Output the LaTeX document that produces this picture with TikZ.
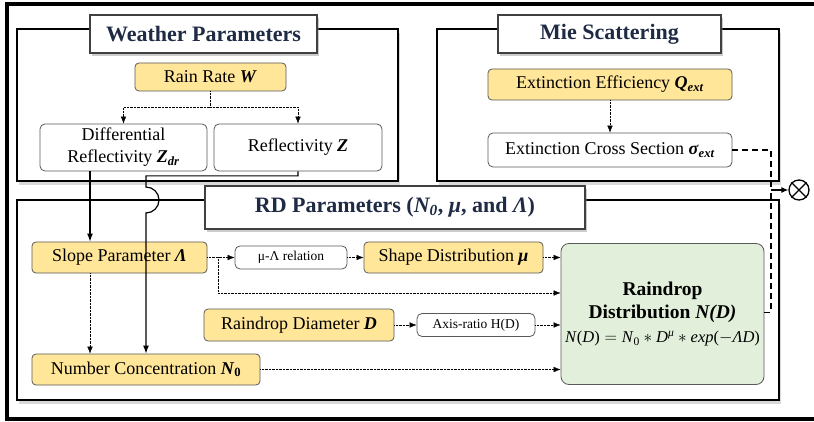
\documentclass[tikz,border=0pt]{standalone}
\usepackage{fontspec}
\setmainfont{Liberation Serif}
\usetikzlibrary{arrows.meta,shadows}

\definecolor{rainyellow}{HTML}{FFE699}
\definecolor{dropgreen}{HTML}{E2EFDA}
\definecolor{titlenavy}{HTML}{1F2A44}

\begin{document}
\begin{tikzpicture}[x=1pt, y=-1pt,
    every node/.style={font=\fontsize{18}{22}\selectfont},
    param/.style={draw=black!65, fill=rainyellow, rounded corners=4pt, thick, inner sep=0pt},
    plainbox/.style={draw=black!65, fill=white, rounded corners=5pt, thick, inner sep=0pt, align=center},
    smallbox/.style={plainbox, font=\fontsize{13.5}{16}\selectfont},
    section/.style={draw=black, line width=1.4pt, fill=white,
        drop shadow={shadow xshift=2pt, shadow yshift=-4pt, opacity=.3}},
    titlebox/.style={draw=black!75, line width=1.8pt, fill=white, inner sep=0pt,
        text=titlenavy, font=\bfseries\fontsize{22}{26}\selectfont,
        drop shadow={shadow xshift=2pt, shadow yshift=-3pt, opacity=.4}},
    dotarrow/.style={densely dotted, thin, -{Latex[length=7pt,width=5.5pt]}},
    flow/.style={line width=1.2pt, -{Latex[length=8pt,width=6pt]}},
    dashflow/.style={line width=1.6pt, dash pattern=on 6pt off 4pt}
  ]
    \useasboundingbox (0,0) rectangle (814,422);
    \draw[line width=4pt] (814,4.5) -- (7,4.5) -- (7,419) -- (814,419);

    \draw[section] (17,29) rectangle (398,181);
    \draw[section] (437,29) rectangle (779,181);
    \draw[section] (17,200) rectangle (779,400);

    \node[titlebox, minimum width=227pt, minimum height=38pt] (wtitle) at (203.5,34) {Weather Parameters};
    \node[titlebox, minimum width=223pt, minimum height=38pt] (mtitle) at (609.5,34) {Mie Scattering};
    \node[titlebox, minimum width=380pt, minimum height=43pt] (rtitle) at (395,207.5)
        {RD Parameters (\textit{N\textsubscript{0}}, \textit{μ}, and \textit{Λ})};

    % weather parameters
    \node[param, minimum width=151pt, minimum height=28pt] (rain) at (210.5,77) {Rain Rate \textbf{\textit{W}}};
    \node[plainbox, minimum width=167pt, minimum height=47pt] (zdr) at (123.5,147.5)
        {Differential\\Reflectivity \textbf{\textit{Z}}\textsubscript{\textbf{\textit{dr}}}};
    \node[plainbox, minimum width=168pt, minimum height=47pt] (refl) at (298,147.5) {Reflectivity \textbf{\textit{Z}}};

    % mie scattering
    \node[param, minimum width=244pt, minimum height=31pt] (qext) at (610,84.5)
        {Extinction Efficiency \textbf{\textit{Q}}\textsubscript{\textbf{\textit{ext}}}};
    \node[plainbox, minimum width=244pt, minimum height=34pt] (sext) at (610,150)
        {Extinction Cross Section \textbf{\textit{σ}}\textsubscript{\textbf{\textit{ext}}}};

    % RD parameters
    \node[param, minimum width=175pt, minimum height=31pt] (slope) at (119.5,257.5) {Slope Parameter \textbf{\textit{Λ}}};
    \node[smallbox, minimum width=112pt, minimum height=23pt] (mula) at (291,257.5) {μ-Λ relation};
    \node[param, minimum width=179pt, minimum height=31pt] (shape) at (453.5,257.5) {Shape Distribution \textbf{\textit{μ}}};
    \node[param, minimum width=190pt, minimum height=32pt] (diam) at (299,325) {Raindrop Diameter \textbf{\textit{D}}};
    \node[smallbox, minimum width=118pt, minimum height=23pt] (axis) at (476,325) {Axis-ratio H(D)};
    \node[param, minimum width=228pt, minimum height=31pt] (numc) at (146,369.5)
        {Number Concentration \textbf{\textit{N}}\textsubscript{\textbf{0}}};
    \node[plainbox, fill=dropgreen, rounded corners=8pt, minimum width=203pt, minimum height=141pt,
        font=\bfseries\fontsize{19.5}{23}\selectfont] (rdd) at (662.5,314)
        {Raindrop\\Distribution \textit{N(D)}\\[1pt]
         {\mdseries\fontsize{16.5}{20}\selectfont\textit{N}(\textit{D})${}={}$\textit{N}\textsubscript{0}${}\ast{}$\textit{D}\textsuperscript{\textit{μ}}${}\ast{}$\textit{exp}($-$\textit{ΛD})}};

    \node[draw, circle, line width=1.3pt, minimum size=20pt, inner sep=0pt] (mult) at (799,190) {};
    \draw[line width=1.3pt] (mult.north west) -- (mult.south east) (mult.north east) -- (mult.south west);
    \coordinate (join) at (771,190);
    \coordinate (hop) at (146,187);

    % connectors
    \draw[dotarrow] (rain.south) -- ++(0,16) -| (zdr.north);
    \draw[dotarrow] (rain.south) -- ++(0,16) -| (refl.north);
    \draw[dotarrow] (qext.south) -- (sext.north);

    \draw[flow] (zdr.south) ++(-33.5,0) coordinate (zdrout) -- (zdrout |- slope.north);
    \draw[flow] (refl.south) -- ++(0,4.5) -| (hop) arc[start angle=-90, end angle=90, radius=13] -- (numc.north);

    \draw[dotarrow] (slope.east) -- (mula.west);
    \draw[dotarrow] (mula.east) -- (shape.west);
    \draw[dotarrow] (shape.east) -- (shape.east -| rdd.west);
    \draw[dotarrow] ([xshift=11pt]slope.east) |- ([yshift=21pt]rdd.west);
    \draw[dotarrow] ([xshift=-29.5pt]slope.south) -- ([xshift=-56pt]numc.north);
    \draw[dotarrow] (diam.east) -- (axis.west);
    \draw[dotarrow] (axis.east) -- (axis.east -| rdd.west);
    \draw[dotarrow] (numc.east) -- (numc.east -| rdd.west);

    \draw[dashflow] (sext.east) -| (join);
    \draw[dashflow] ([yshift=1.5pt]rdd.east) -| (join);
    \draw[line width=1.2pt, -{Latex[length=7pt,width=6pt]}] (join) -- (mult.west);
\end{tikzpicture}
\end{document}
